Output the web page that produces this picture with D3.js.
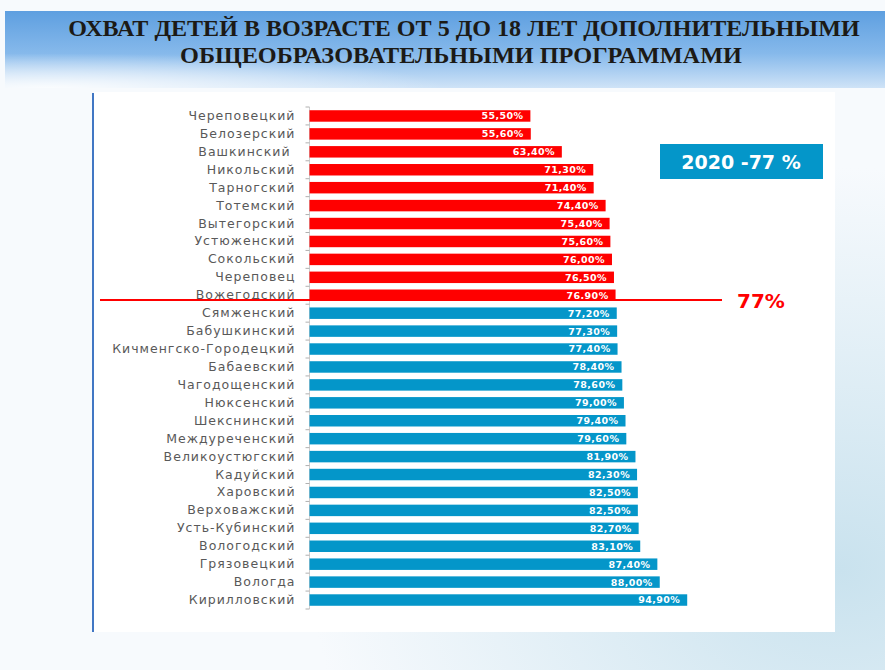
<!DOCTYPE html>
<html>
<head>
<meta charset="utf-8">
<style>
    body { margin: 0; background: #ffffff; }
    .cat text { font-family: "DejaVu Sans", Verdana, sans-serif; font-size: 12.5px; fill: #595959; letter-spacing: 1px; white-space: pre; }
    .val { font-family: "DejaVu Sans", Verdana, sans-serif; font-size: 9.5px; font-weight: bold; fill: #ffffff; letter-spacing: 0.4px; }
    .title { font-family: "Liberation Serif", "Times New Roman", serif; font-weight: bold; font-size: 24px; fill: #1c1a16; }
</style>
</head>
<body>
<svg id="chart" width="885" height="670"></svg>
<script src="https://d3js.org/d3.v7.min.js"></script>
<script>
// data
let districts = ["Череповецкий", "Белозерский", "Вашкинский\u00a0", "Никольский", "Тарногский", "Тотемский",
    "Вытегорский", "Устюженский", "Сокольский", "Череповец", "Вожегодский", "Сямженский", "Бабушкинский",
    "Кичменгско-Городецкий", "Бабаевский", "Чагодощенский", "Нюксенский", "Шекснинский", "Междуреченский",
    "Великоустюгский", "Кадуйский", "Харовский", "Верховажский", "Усть-Кубинский", "Вологодский",
    "Грязовецкий", "Вологда", "Кирилловский"]
let coverage = [55.5, 55.6, 63.4, 71.3, 71.4, 74.4, 75.4, 75.6, 76.0, 76.5, 76.9, 77.2, 77.3,
    77.4, 78.4, 78.6, 79.0, 79.4, 79.6, 81.9, 82.3, 82.5, 82.5, 82.7, 83.1, 87.4, 88.0, 94.9]
let target = 77
let targetLabel = "77%"
let badgeText = "2020 -77 %"
let titleLines = ["ОХВАТ ДЕТЕЙ  В ВОЗРАСТЕ  ОТ 5 ДО 18 ЛЕТ  ДОПОЛНИТЕЛЬНЫМИ",
    "ОБЩЕОБРАЗОВАТЕЛЬНЫМИ  ПРОГРАММАМИ"]

let data = districts.map((d, i) => ({ name: d, value: coverage[i] }))

let svg = d3.select("#chart")
let defs = svg.append("defs")

// slide background
let bg = defs.append("radialGradient").attr("id", "bgGrad")
    .attr("cx", "95%").attr("cy", "85%").attr("r", "60%")
bg.append("stop").attr("offset", "0%").attr("stop-color", "#c9e2ee")
bg.append("stop").attr("offset", "100%").attr("stop-color", "#f7fafd")
svg.append("rect").attr("width", 885).attr("height", 670).attr("fill", "url(#bgGrad)")

let head = defs.append("linearGradient").attr("id", "headGrad")
    .attr("x1", 0).attr("y1", 0).attr("x2", 0).attr("y2", 1)
head.append("stop").attr("offset", "0%").attr("stop-color", "#5e9fe0")
head.append("stop").attr("offset", "55%").attr("stop-color", "#86b9eb")
head.append("stop").attr("offset", "100%").attr("stop-color", "#cfe3f7")
let headGlow = defs.append("radialGradient").attr("id", "headGlow")
    .attr("cx", "5%").attr("cy", "100%").attr("r", "45%")
headGlow.append("stop").attr("offset", "0%").attr("stop-color", "#ffffff").attr("stop-opacity", 0.9)
headGlow.append("stop").attr("offset", "100%").attr("stop-color", "#ffffff").attr("stop-opacity", 0)
svg.append("rect").attr("x", 5).attr("y", 11).attr("width", 880).attr("height", 77).attr("fill", "url(#headGrad)")
svg.append("rect").attr("x", 5).attr("y", 11).attr("width", 880).attr("height", 77).attr("fill", "url(#headGlow)")

// title, squeezed horizontally like the condensed original
let titleBox = [{ cx: 464, y: 36, w: 792 }, { cx: 461, y: 63, w: 562 }]
svg.selectAll(".title").data(titleLines).enter()
    .append("text").attr("class", "title")
    .attr("text-anchor", "middle")
    .text(d => d)
    .each(function (d, i) {
        let b = titleBox[i]
        let k = b.w / this.getComputedTextLength()
        d3.select(this).attr("transform", `translate(${b.cx},${b.y}) scale(${k},1)`)
    })

// white panel
svg.append("rect").attr("x", 94).attr("y", 92).attr("width", 741).attr("height", 540).attr("fill", "#ffffff")
svg.append("line").attr("x1", 93).attr("x2", 93).attr("y1", 93).attr("y2", 632)
    .attr("stroke", "#4177c4").attr("stroke-width", 2)

// scales
let x = d3.scaleLinear().domain([0, 100]).range([309.5, 707.5])
let y = d3.scaleBand().domain(districts).range([107, 609]).paddingInner(0.36).paddingOuter(0.18)
let color = v => v < target ? "#ff0000" : "#0496c9"

// axis
let axis = svg.append("g").attr("class", "cat")
    .attr("transform", `translate(${x(0) - 14},0)`)
    .call(d3.axisLeft(y).tickSize(0).tickPadding(0))
axis.select(".domain").remove()

let step = y.step()
let bounds = d3.range(districts.length + 1).map(i => y.range()[0] + i * step)
svg.append("line").attr("x1", x(0)).attr("x2", x(0))
    .attr("y1", bounds[0]).attr("y2", bounds[bounds.length - 1])
    .attr("stroke", "#d0d0d0")
svg.selectAll(".tick-b").data(bounds).enter().append("line")
    .attr("x1", x(0) - 4).attr("x2", x(0))
    .attr("y1", d => d).attr("y2", d => d)
    .attr("stroke", "#b0b0b0")

// bars
svg.selectAll(".bar").data(data).enter().append("rect")
    .attr("x", x(0))
    .attr("y", d => y(d.name))
    .attr("width", d => x(d.value) - x(0))
    .attr("height", y.bandwidth())
    .attr("fill", d => color(d.value))

let fmt = v => d3.format(".2f")(v).replace(".", ",") + "%"
svg.selectAll(".val").data(data).enter().append("text").attr("class", "val")
    .attr("x", d => x(d.value) - 7)
    .attr("y", d => y(d.name) + y.bandwidth() / 2)
    .attr("dy", "0.36em")
    .attr("text-anchor", "end")
    .text(d => fmt(d.value))

// 77% line
let lastRed = data.filter(d => d.value < target).pop()
let lineY = y(lastRed.name) + y.bandwidth() - 1
svg.append("line").attr("x1", 100).attr("x2", 722).attr("y1", lineY).attr("y2", lineY)
    .attr("stroke", "#ff0000").attr("stroke-width", 2)
svg.append("text").attr("x", 737).attr("y", lineY + 8)
    .attr("font-family", "DejaVu Sans, Verdana, sans-serif").attr("font-weight", "bold")
    .attr("font-size", 20).attr("fill", "#ff0000")
    .text(targetLabel)

// badge
svg.append("rect").attr("x", 660).attr("y", 144).attr("width", 163).attr("height", 35).attr("fill", "#0496c9")
svg.append("text").attr("x", 741).attr("y", 169)
    .attr("text-anchor", "middle")
    .attr("font-family", "DejaVu Sans, Verdana, sans-serif").attr("font-weight", "bold")
    .attr("font-size", 19).attr("fill", "#ffffff")
    .text(badgeText)
</script>
</body>
</html>
